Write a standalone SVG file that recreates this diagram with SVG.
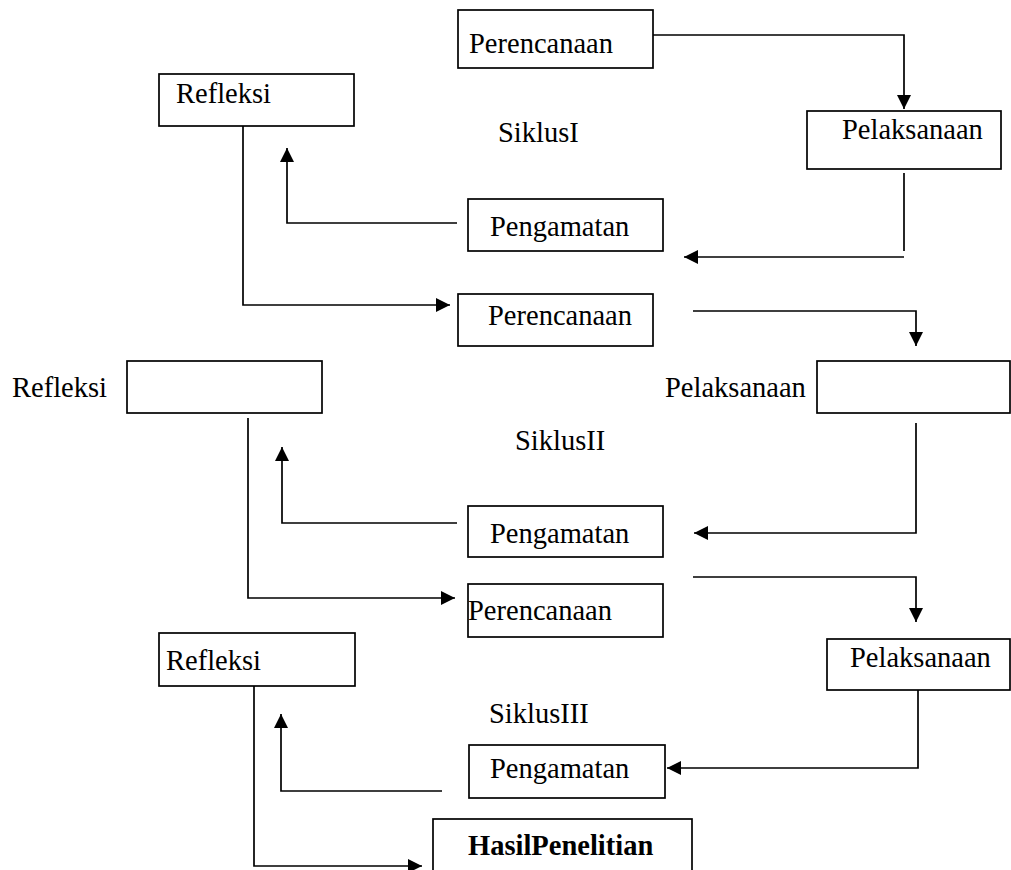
<svg xmlns="http://www.w3.org/2000/svg" width="1011" height="870" viewBox="0 0 1011 870">
<style>
  .box { fill: #ffffff; stroke: #000000; stroke-width: 1.7; }
  .t { font-family: "Liberation Serif", "Times New Roman", serif; font-size: 28.5px; fill: #000000; }
  .b { font-weight: bold; }
  .c { fill: none; stroke: #000000; stroke-width: 1.7; }
  .a { marker-end: url(#arr); }
</style>
<defs>
  <marker id="arr" markerUnits="userSpaceOnUse" markerWidth="15" markerHeight="14" viewBox="0 0 15 14" refX="14" refY="7" orient="auto">
    <path d="M0,0 L14,7 L0,14 Z" fill="#000000"/>
  </marker>
</defs>
<rect width="1011" height="870" fill="#ffffff"/>

<g id="connectors">
  <path class="c a" d="M653,35 H904 V109"/>
  <path class="c" d="M904,173 V251"/>
  <path class="c a" d="M904,257 H684"/>
  <path class="c a" d="M457,223 H287 V148"/>
  <path class="c a" d="M243,126 V305 H450"/>
  <path class="c a" d="M693,311 H916 V346"/>
  <path class="c a" d="M916,423 V533 H694"/>
  <path class="c a" d="M457,523 H282 V447"/>
  <path class="c a" d="M248,418 V598 H455"/>
  <path class="c a" d="M693,577 H916 V622"/>
  <path class="c a" d="M918,690 V768 H667"/>
  <path class="c a" d="M442,791 H281 V714"/>
  <path class="c a" d="M254,686 V866 H422"/>
</g>

<g id="perencanaan1">
  <rect class="box" x="458" y="10" width="195" height="58"/>
  <text class="t" x="469" y="53">Perencanaan</text>
</g>
<g id="pelaksanaan1">
  <rect class="box" x="807" y="111" width="194" height="58"/>
  <text class="t" x="842" y="139">Pelaksanaan</text>
</g>
<g id="siklus1">
  <text class="t" x="498" y="142">SiklusI</text>
</g>
<g id="refleksi1">
  <rect class="box" x="159" y="74" width="195" height="52"/>
  <text class="t" x="176" y="103">Refleksi</text>
</g>
<g id="pengamatan1">
  <rect class="box" x="468" y="199" width="195" height="52"/>
  <text class="t" x="490" y="236">Pengamatan</text>
</g>

<g id="perencanaan2">
  <rect class="box" x="458" y="294" width="195" height="52"/>
  <text class="t" x="488" y="325">Perencanaan</text>
</g>
<g id="refleksi2">
  <text class="t" x="12" y="397">Refleksi</text>
  <rect class="box" x="127" y="361" width="195" height="52"/>
</g>
<g id="pelaksanaan2">
  <text class="t" x="665" y="397">Pelaksanaan</text>
  <rect class="box" x="817" y="361" width="193" height="52"/>
</g>
<g id="siklus2">
  <text class="t" x="515" y="450">SiklusII</text>
</g>
<g id="pengamatan2">
  <rect class="box" x="468" y="506" width="195" height="51"/>
  <text class="t" x="490" y="543">Pengamatan</text>
</g>

<g id="perencanaan3">
  <rect class="box" x="468" y="584" width="195" height="53"/>
  <text class="t" x="468" y="620">Perencanaan</text>
</g>
<g id="refleksi3">
  <rect class="box" x="159" y="633" width="196" height="53"/>
  <text class="t" x="166" y="670">Refleksi</text>
</g>
<g id="pelaksanaan3">
  <rect class="box" x="827" y="639" width="183" height="51"/>
  <text class="t" x="850" y="667">Pelaksanaan</text>
</g>
<g id="siklus3">
  <text class="t" x="489" y="723">SiklusIII</text>
</g>
<g id="pengamatan3">
  <rect class="box" x="469" y="745" width="196" height="53"/>
  <text class="t" x="490" y="778">Pengamatan</text>
</g>
<g id="hasil">
  <rect class="box" x="433" y="819" width="259" height="60"/>
  <text class="t b" x="468" y="855">HasilPenelitian</text>
</g>
</svg>
